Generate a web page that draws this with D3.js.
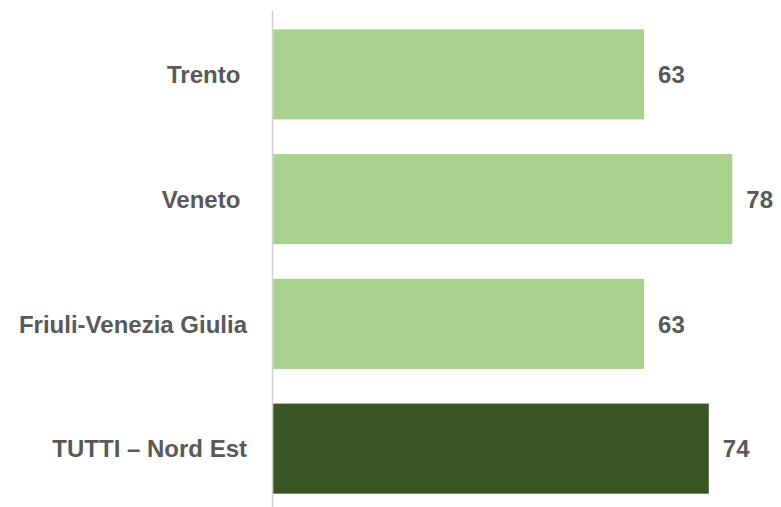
<!DOCTYPE html>
<html>
<head>
<meta charset="utf-8">
<script src="https://cdn.jsdelivr.net/npm/d3@7"></script>
<style>
  html, body { margin: 0; padding: 0; background: #fff; }
  svg { display: block; }
  text { font-family: "Liberation Sans", Arial, sans-serif; font-weight: bold; fill: #595959; white-space: pre; }
</style>
</head>
<body>
<svg id="chart" width="781" height="507"></svg>
<script>
// Regions and their scores
const categories = ["Trento ", "Veneto ", "Friuli-Venezia Giulia", "TUTTI \u2013 Nord Est"];
const values = [63, 78, 63, 74];
const barColors = ["#A9D18E", "#A9D18E", "#A9D18E", "#375623"];

const svg = d3.select("#chart");

const x = d3.scaleLinear().domain([0, 80]).range([273.3, 744.1]);
const y = d3.scaleBand().domain(categories).range([12, 511])
  .paddingInner(0.278).paddingOuter(0.139);

// Vertical category axis line
svg.append("line")
  .attr("x1", 272.5).attr("x2", 272.5)
  .attr("y1", 11).attr("y2", 507)
  .attr("stroke", "#d0d0d0").attr("stroke-width", 1.5);

// Bars
svg.selectAll("rect.bar").data(values).join("rect")
  .attr("class", "bar")
  .attr("x", x(0))
  .attr("y", (d, i) => y(categories[i]))
  .attr("width", d => x(d) - x(0))
  .attr("height", y.bandwidth())
  .attr("fill", (d, i) => barColors[i]);

// Category labels
svg.selectAll("text.cat").data(categories).join("text")
  .attr("class", "cat")
  .attr("x", 247)
  .attr("y", d => y(d) + y.bandwidth() / 2)
  .attr("dy", "0.36em")
  .attr("text-anchor", "end")
  .attr("font-size", 24)
  .text(d => d);

// Value labels
svg.selectAll("text.val").data(values).join("text")
  .attr("class", "val")
  .attr("x", d => x(d) + 14)
  .attr("y", (d, i) => y(categories[i]) + y.bandwidth() / 2)
  .attr("dy", "0.36em")
  .attr("text-anchor", "start")
  .attr("font-size", 24)
  .attr("fill", "#404040")
  .text(d => d);
</script>
</body>
</html>
